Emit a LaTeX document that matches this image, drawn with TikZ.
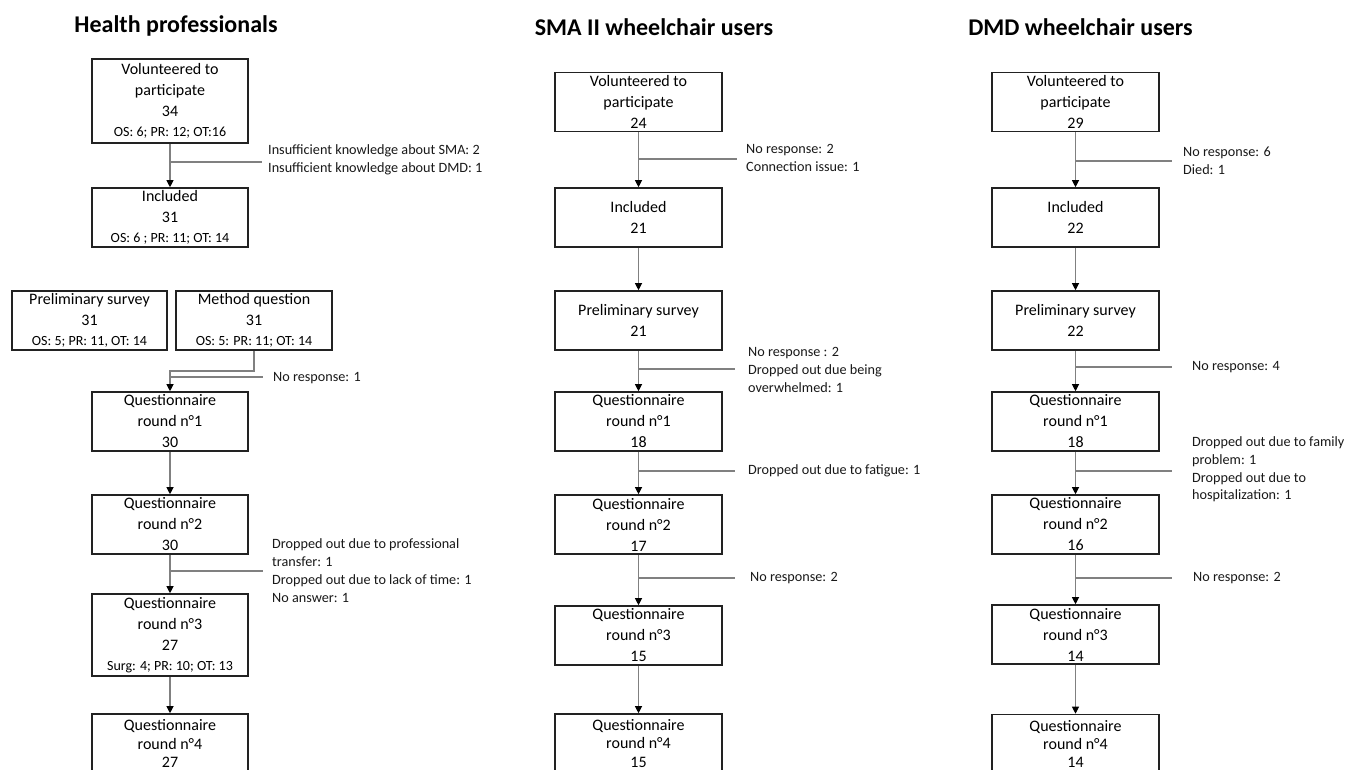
\documentclass[tikz,border=0pt]{standalone}
\usepackage{fontspec}
\setmainfont{Carlito}
\usetikzlibrary{arrows.meta}
\newcommand{\boxfont}{\fontsize{16}{21}\selectfont}
\newcommand{\smallfont}{\fontsize{14}{17}\selectfont}
\newcommand{\labfont}{\fontsize{14.2}{17.8}\selectfont}
\newcommand{\titlefont}{\fontsize{24}{28}\selectfont\bfseries}
\definecolor{boxline}{RGB}{34,34,34}
\definecolor{connline}{RGB}{128,128,128}
\definecolor{labtext}{RGB}{25,25,25}
\begin{document}
\begin{tikzpicture}[x=1pt,y=-1pt,
  box/.style={draw=boxline, line width=1.6pt, inner sep=0pt, align=center,
    font=\boxfont, text=black, minimum height=59pt},
  wbox/.style={box, minimum width=156pt},
  mbox/.style={box, minimum width=167pt},
  conn/.style={draw=connline, line width=1.1pt,
    -{Triangle[width=7pt,length=7pt,color=black]}},
  branch/.style={draw=connline, line width=1.1pt},
  lab/.style={anchor=west, align=left, font=\labfont, text=labtext, inner sep=0pt},
  title/.style={anchor=base, font=\titlefont, text=black, inner sep=0pt}]
\useasboundingbox (0,0) rectangle (1369,769);
\fill[white] (0,0) rectangle (1369,769);

% ---------- titles ----------
\node[title] (t1) at (176,32) {Health professionals};
\node[title] (t2) at (654,35) {SMA II wheelchair users};
\node[title] (t3) at (1080.5,35) {DMD wheelchair users};

% ---------- Health professionals ----------
\node[wbox, minimum height=84pt] (hpV) at (170,101)
  {Volunteered to\\participate\\34\\[-1.5pt]{\smallfont OS: 6; PR: 12; OT:16}};
\node[wbox] (hpI) at (170,217.5)
  {Included\\31\\[-1.5pt]{\smallfont OS: 6 ; PR: 11; OT: 14}};
\node[box, minimum width=155pt] (hpP) at (89.5,320.5)
  {Preliminary survey\\31\\[-1.5pt]{\smallfont OS: 5; PR: 11, OT: 14}};
\node[wbox] (hpM) at (254,320.5)
  {Method question\\31\\[-1.5pt]{\smallfont OS: 5: PR: 11; OT: 14}};
\node[wbox] (hpQ1) at (170,421.5) {Questionnaire\\round n°1\\30};
\node[wbox] (hpQ2) at (170,524.5) {Questionnaire\\round n°2\\30};
\node[wbox, minimum height=82pt] (hpQ3) at (170,635)
  {Questionnaire\\round n°3\\27\\[-1.5pt]{\smallfont Surg: 4; PR: 10; OT: 13}};
\node[wbox] (hpQ4) at (170,743.5) {Questionnaire\\[-2.5pt]round n°4\\[-2.5pt]27};

\coordinate (hpB1) at (262,162);
\coordinate (hpE) at (170,371);
\coordinate (hpB2) at (263,377);
\coordinate (hpB3) at (263,571);

\draw[conn] (hpV.south) -- (hpI.north);
\draw[branch] (hpV.south |- hpB1) -- (hpB1);
\draw[conn] (hpM.south) |- (hpE) -- (hpQ1.north);
\draw[branch] (hpE |- hpB2) -- (hpB2);
\draw[conn] (hpQ1.south) -- (hpQ2.north);
\draw[conn] (hpQ2.south) -- (hpQ3.north);
\draw[branch] (hpQ2.south |- hpB3) -- (hpB3);
\draw[conn] (hpQ3.south) -- (hpQ4.north);

\node[lab] (hpL1) at (268,160)
  {Insufficient knowledge about SMA: 2\\Insufficient knowledge about DMD: 1};
\node[lab] (hpL2) at (273,378.5) {No response: 1};
\node[lab] (hpL3) at (272,570.5)
  {Dropped out due to professional\\transfer: 1\\Dropped out due to lack of time: 1\\No answer: 1};

% ---------- SMA II ----------
\node[mbox] (smV) at (638.5,102) {Volunteered to\\participate\\24};
\node[mbox] (smI) at (638.5,217.5) {Included\\21};
\node[mbox] (smP) at (638.5,320.5) {Preliminary survey\\21};
\node[mbox] (smQ1) at (638.5,421.5) {Questionnaire\\round n°1\\18};
\node[mbox] (smQ2) at (638.5,524.5) {Questionnaire\\round n°2\\17};
\node[mbox] (smQ3) at (638.5,635.5) {Questionnaire\\round n°3\\15};
\node[mbox] (smQ4) at (638.5,743.5) {Questionnaire\\[-2.5pt]round n°4\\[-2.5pt]15};

\coordinate (smB1) at (737,159);
\coordinate (smB2) at (735,369);
\coordinate (smB3) at (735,471);
\coordinate (smB4) at (735,578);

\draw[conn] (smV.south) -- (smI.north);
\draw[branch] (smV.south |- smB1) -- (smB1);
\draw[conn] (smI.south) -- (smP.north);
\draw[conn] (smP.south) -- (smQ1.north);
\draw[branch] (smP.south |- smB2) -- (smB2);
\draw[conn] (smQ1.south) -- (smQ2.north);
\draw[branch] (smQ1.south |- smB3) -- (smB3);
\draw[conn] (smQ2.south) -- (smQ3.north);
\draw[branch] (smQ2.south |- smB4) -- (smB4);
\draw[conn] (smQ3.south) -- (smQ4.north);

\node[lab] (smL1) at (746,158) {No response: 2\\Connection issue: 1};
\node[lab] (smL2) at (748,370) {No response : 2\\Dropped out due being\\overwhelmed: 1};
\node[lab] (smL3) at (748,471) {Dropped out due to fatigue: 1};
\node[lab] (smL4) at (750,578) {No response: 2};

% ---------- DMD ----------
\node[mbox] (dmV) at (1075.5,102) {Volunteered to\\participate\\29};
\node[mbox] (dmI) at (1075.5,217.5) {Included\\22};
\node[mbox] (dmP) at (1075.5,320.5) {Preliminary survey\\22};
\node[mbox] (dmQ1) at (1075.5,421.5) {Questionnaire\\round n°1\\18};
\node[mbox] (dmQ2) at (1075.5,524.5) {Questionnaire\\round n°2\\16};
\node[mbox] (dmQ3) at (1075.5,634.5) {Questionnaire\\round n°3\\14};
\node[mbox] (dmQ4) at (1075.5,744) {Questionnaire\\[-3pt]round n°4\\[-3pt]14};

\coordinate (dmB1) at (1172,161);
\coordinate (dmB2) at (1172,367);
\coordinate (dmB3) at (1172,471);
\coordinate (dmB4) at (1172,578);

\draw[conn] (dmV.south) -- (dmI.north);
\draw[branch] (dmV.south |- dmB1) -- (dmB1);
\draw[conn] (dmI.south) -- (dmP.north);
\draw[conn] (dmP.south) -- (dmQ1.north);
\draw[branch] (dmP.south |- dmB2) -- (dmB2);
\draw[conn] (dmQ1.south) -- (dmQ2.north);
\draw[branch] (dmQ1.south |- dmB3) -- (dmB3);
\draw[conn] (dmQ2.south) -- (dmQ3.north);
\draw[branch] (dmQ2.south |- dmB4) -- (dmB4);
\draw[conn] (dmQ3.south) -- (dmQ4.north);

\node[lab] (dmL1) at (1183,161) {No response: 6\\Died: 1};
\node[lab] (dmL2) at (1192,367) {No response: 4};
\node[lab] (dmL3) at (1192,469.5)
  {Dropped out due to family\\problem: 1\\Dropped out due to\\hospitalization: 1};
\node[lab] (dmL4) at (1193,578) {No response: 2};
\end{tikzpicture}
\end{document}
